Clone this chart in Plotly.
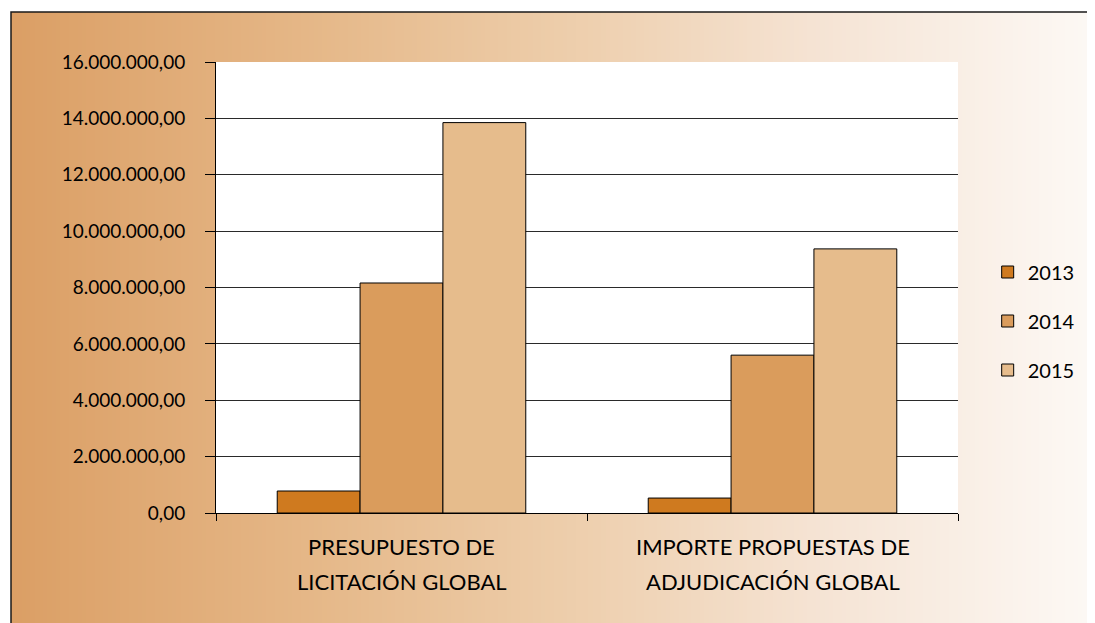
import base64
import struct
import zlib

import plotly.graph_objects as go

# Data
categories = ["PRESUPUESTO DE<br>LICITACIÓN GLOBAL", "IMPORTE PROPUESTAS DE<br>ADJUDICACIÓN GLOBAL"]
years = ["2013", "2014", "2015"]
values_2013 = [780000, 530000]
values_2014 = [8160000, 5600000]
values_2015 = [13850000, 9370000]
tick_values = [0, 2000000, 4000000, 6000000, 8000000, 10000000, 12000000, 14000000, 16000000]

bar_colors = ["#CF7A1F", "#DA9C5C", "#E6BC8C"]

# page has an 8px body margin, so work in shifted pixel coords
OFF = 8
W, H = 1095 - OFF, 623 - OFF
L, T = 216 - OFF, 62 - OFF
R, B = W - (958 - OFF), H - (513 - OFF)
pw, ph = W - L - R, H - T - B


def px_x(p):
    return (p - OFF - L) / pw


def px_y(p):
    return (H - B - (p - OFF)) / ph


# horizontal gradient for the chart frame, built as a tiny png
stops = [(11, (219, 159, 101)), (300, (229, 183, 135)), (550, (237, 205, 170)),
         (800, (245, 227, 211)), (1095, (253, 250, 247))]


def grad_color(p):
    for (p0, c0), (p1, c1) in zip(stops, stops[1:]):
        if p <= p1:
            t = (p - p0) / (p1 - p0)
            return tuple(int(round(a + (b - a) * t)) for a, b in zip(c0, c1))
    return stops[-1][1]


def make_png(width):
    row = b"\x00" + b"".join(bytes(grad_color(11 + (1095 - 11) * i / (width - 1))) for i in range(width))

    def chunk(tag, data):
        c = struct.pack(">I", len(data)) + tag + data
        return c + struct.pack(">I", zlib.crc32(tag + data) & 0xFFFFFFFF)

    png = b"\x89PNG\r\n\x1a\n"
    png += chunk(b"IHDR", struct.pack(">IIBBBBB", width, 1, 8, 2, 0, 0, 0))
    png += chunk(b"IDAT", zlib.compress(row))
    png += chunk(b"IEND", b"")
    return "data:image/png;base64," + base64.b64encode(png).decode()


fig = go.Figure()

for name, vals, col in zip(years, [values_2013, values_2014, values_2015], bar_colors):
    fig.add_trace(go.Bar(
        x=categories, y=vals, name=name, legendgroup=name,
        marker=dict(color=col, line=dict(color="black", width=1)),
    ))

fx0, fx1 = px_x(11), px_x(1110)
fy0, fy1 = px_y(640), px_y(12)

fig.add_layout_image(dict(
    source=make_png(256), xref="paper", yref="paper",
    x=fx0, y=fy1, sizex=fx1 - fx0, sizey=fy1 - fy0,
    sizing="stretch", xanchor="left", yanchor="top", layer="below",
))

# frame border
fig.add_shape(type="rect", xref="paper", yref="paper", x0=fx0, x1=fx1, y0=fy0, y1=fy1,
              line=dict(color="#1a1a1a", width=1.5), layer="below")
# white plot area
fig.add_shape(type="rect", xref="x domain", yref="y domain", x0=0, x1=1, y0=0, y1=1,
              fillcolor="white", line=dict(width=0), layer="below")

# category labels, one annotation per line for the wider line spacing
for cat in categories:
    for i, line in enumerate(cat.split("<br>")):
        fig.add_annotation(x=cat, xref="x", yref="paper", y=px_y(546 + 35 * i),
                           text=line, showarrow=False, yanchor="middle",
                           font=dict(size=22, color="black"))

fig.update_layout(
    width=W, height=H,
    margin=dict(l=L, r=R, t=T, b=B),
    paper_bgcolor="white",
    plot_bgcolor="white",
    font=dict(family="Lato", size=19, color="black"),
    separators=",.",
    barmode="group",
    bargap=0.33,
    bargroupgap=0,
    legend=dict(x=1.04, y=px_y(321), xanchor="left", yanchor="middle",
                bgcolor="rgba(0,0,0,0)", tracegroupgap=20,
                font=dict(size=20)),
    xaxis=dict(showline=True, linecolor="black", linewidth=1,
               ticks="outside", ticklen=7, tickcolor="black",
               tickson="boundaries", showgrid=False, showticklabels=False),
    yaxis=dict(range=[0, 16000000], tickvals=tick_values, tickformat=",.2f",
               showline=True, linecolor="black", linewidth=1,
               ticks="outside", ticklen=10, tickcolor="black",
               ticklabelstandoff=16,
               showgrid=True, gridcolor="#2a2a2a", gridwidth=1,
               zeroline=False),
)

fig.write_html("out.html")
